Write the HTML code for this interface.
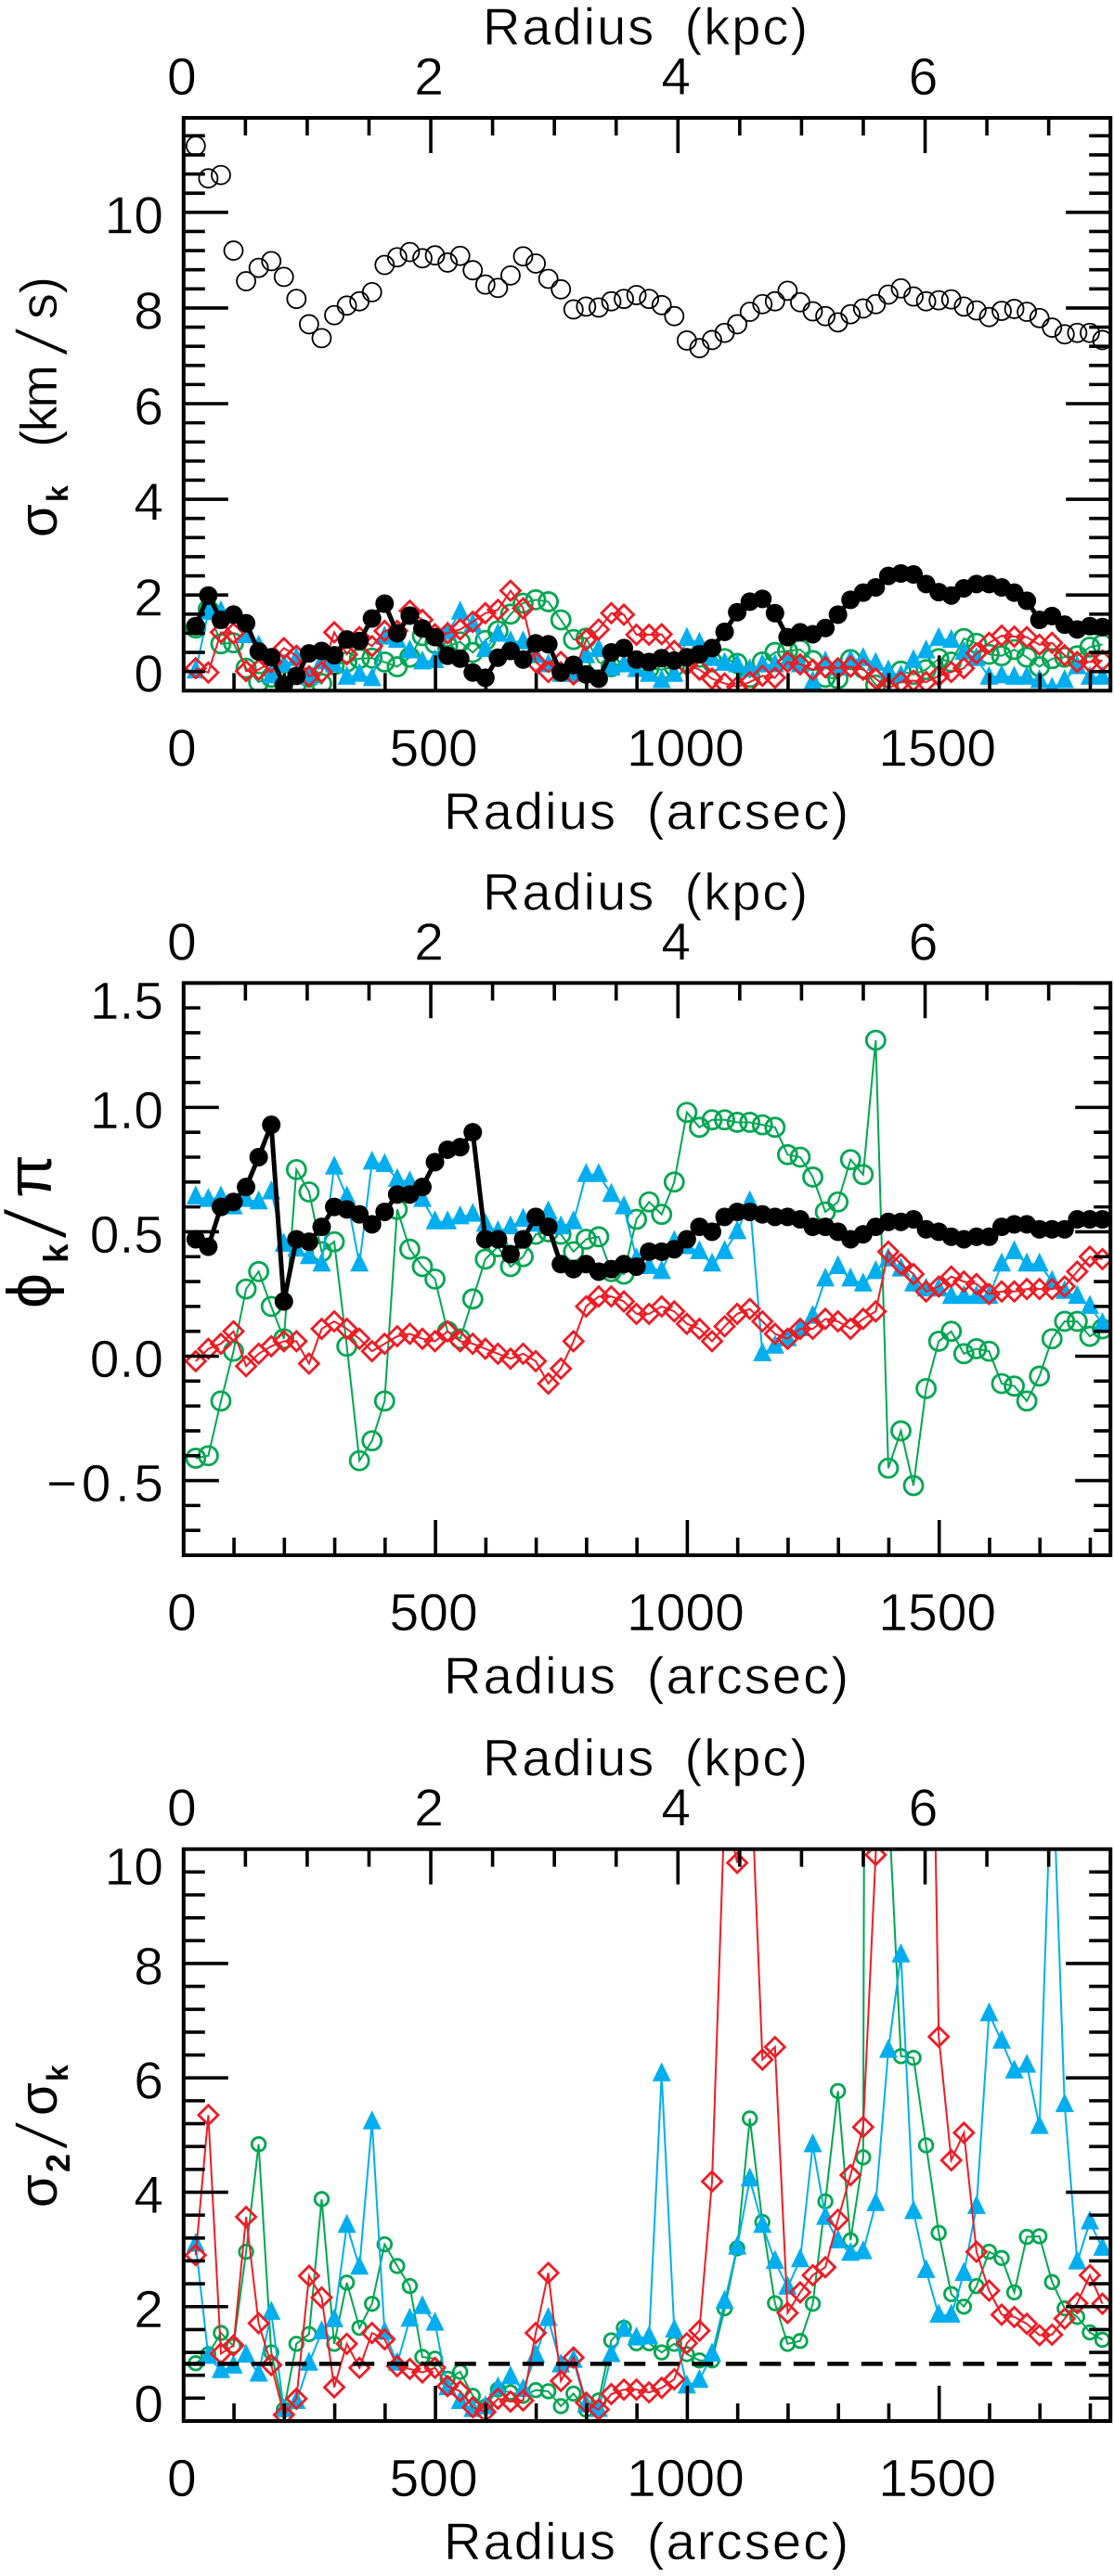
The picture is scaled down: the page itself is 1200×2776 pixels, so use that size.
<!DOCTYPE html>
<html lang="en">
<head>
<meta charset="utf-8">
<title>Radial profiles of sigma, phi and sigma ratio</title>
<style>
html,body{margin:0;padding:0;background:#fff;}
svg{display:block;}
text{font-family:"Liberation Sans","DejaVu Sans",sans-serif;fill:#000;stroke:#fff;stroke-width:0.6px;}
</style>
</head>
<body>
<svg id="chart" xmlns="http://www.w3.org/2000/svg" width="1200" height="2776" viewBox="0 0 1200 2776"></svg>
<script>
const radiusArcsec = [24,49,74,99,124,149,174,199,224,249,274,299,324,349,374,399,424,449,474,499,524,549,574,599,624,649,674,699,724,749,774,799,824,849,874,899,924,949,974,999,1024,1049,1074,1099,1124,1149,1174,1199,1224,1249,1274,1299,1324,1349,1374,1399,1424,1449,1474,1499,1524,1549,1574,1599,1624,1649,1674,1699,1724,1749,1774,1799,1824];
const arcsecTicks = [100,200,300,400,500,600,700,800,900,1000,1100,1200,1300,1400,1500,1600,1700,1800];
const arcsecLabels = [0,500,1000,1500];
const kpcTicks = [0.5,1,1.5,2,2.5,3,3.5,4,4.5,5,5.5,6,6.5,7];
const kpcLabels = [0,2,4,6];

const sigmaTotal = [11.39,10.71,10.78,9.2,8.56,8.84,8.98,8.65,8.19,7.66,7.37,7.85,8.05,8.14,8.33,8.9,9.06,9.17,9.04,9.1,8.95,9.09,8.79,8.49,8.42,8.68,9.08,8.93,8.61,8.39,7.97,8.03,8.01,8.14,8.19,8.27,8.19,8.06,7.83,7.32,7.16,7.33,7.48,7.66,7.92,8.08,8.14,8.36,8.12,7.93,7.83,7.7,7.87,7.99,8.08,8.28,8.41,8.24,8.14,8.16,8.18,8.03,7.95,7.81,7.94,7.98,7.92,7.79,7.59,7.45,7.48,7.48,7.33];
const sigmaBlack = [1.35,1.99,1.48,1.59,1.41,.82,.7,.12,.31,.78,.83,.74,1.07,1.04,1.51,1.82,1.2,1.57,1.3,1.12,.73,.67,.38,.27,.69,.83,.65,.99,.97,.38,.54,.34,.25,.8,.89,.65,.6,.68,.63,.7,.76,.89,1.23,1.64,1.86,1.92,1.62,1.12,1.22,1.18,1.31,1.59,1.9,2.05,2.16,2.4,2.45,2.43,2.23,2.06,1.99,2.14,2.23,2.23,2.16,2.05,1.88,1.48,1.56,1.38,1.28,1.35,1.33];
const sigmaBlue = [.41,1.64,1.65,1.57,1.15,.93,.31,.54,.67,.28,.6,.54,.28,.34,.25,1.12,1.05,.83,.6,.63,1.22,1.64,1.38,.86,1.18,1.02,1.02,.73,.54,.34,.34,.73,.86,.47,.54,.44,.34,.21,.34,1.09,.99,.67,.57,.54,.44,.54,.54,.6,.54,.18,.6,.47,.63,.67,.57,.41,.31,.63,.83,1.09,1.05,.8,.67,.28,.31,.28,.28,.21,.05,.21,.5,.28,.28];
const sigmaGreen = [1.31,1.7,.98,1.0,.47,.18,.28,.21,.15,.28,.15,.54,.6,.67,.68,.6,.5,.7,1.15,.99,.93,1.02,.8,1.05,1.25,1.6,1.83,1.9,1.86,1.48,1.07,1.1,.6,.5,.6,.54,.47,.44,.5,.6,.7,.6,.67,.57,.28,.6,.8,.83,.86,.63,.28,.25,.65,.47,.12,.08,.41,.34,.44,.67,.6,1.09,.99,.76,.73,.86,.7,.5,.67,.7,.73,.91,.97];
const sigmaRed = [.47,.38,1.22,1.2,.41,.44,.6,.89,.73,.3,.39,1.22,.76,1.12,.93,1.25,1.25,1.67,1.48,1.18,1.2,1.28,1.44,1.62,1.69,2.09,1.72,.6,.39,.6,.34,1.06,1.28,1.62,1.59,1.17,1.17,1.18,.83,.54,.44,.25,.15,.08,.18,.31,.27,.6,.55,.44,.49,.47,.5,.44,.25,.05,.18,.21,.18,.31,.39,.47,.78,1.0,1.15,1.13,1.12,.96,1.0,.74,.6,.6,.63];

const phiBlack = [.47,.44,.6,.62,.68,.8,.93,.22,.47,.46,.52,.6,.59,.57,.53,.58,.65,.65,.68,.78,.83,.84,.9,.47,.47,.41,.47,.56,.52,.37,.35,.37,.34,.35,.37,.36,.42,.42,.43,.47,.52,.5,.56,.58,.58,.57,.56,.56,.55,.52,.52,.5,.47,.49,.52,.54,.54,.55,.51,.5,.48,.47,.48,.48,.52,.53,.53,.51,.51,.51,.55,.55,.55];
const phiBlue = [.64,.63,.64,.6,.63,.62,.66,.45,.43,.4,.37,.76,.64,.37,.78,.77,.71,.7,.63,.54,.54,.56,.57,.53,.5,.52,.55,.53,.58,.52,.54,.73,.73,.65,.6,.39,.36,.34,.46,.44,.42,.37,.42,.5,.62,.01,.04,.07,.11,.16,.31,.36,.31,.29,.34,.39,.35,.29,.27,.27,.24,.24,.24,.24,.37,.42,.37,.37,.3,.26,.24,.2,.13];
const phiGreen = [-.41,-.4,-.18,.02,.27,.34,.2,.07,.75,.66,.42,.46,.04,-.42,-.34,-.18,.59,.43,.36,.31,.1,.07,.23,.39,.44,.36,.4,.49,.5,.49,.42,.47,.48,.34,.33,.55,.62,.57,.7,.98,.92,.95,.95,.94,.94,.93,.92,.81,.8,.72,.58,.62,.79,.73,1.27,-.45,-.3,-.52,-.13,.06,.1,.01,.03,.02,-.11,-.12,-.18,-.08,.07,.14,.14,.08,.11];
const phiRed = [-.02,.03,.05,.1,-.04,.01,.04,.06,.06,-.03,.11,.14,.11,.07,.02,.05,.08,.09,.07,.06,.1,.06,.05,.03,.01,-.01,.01,-.02,-.11,-.05,.06,.2,.24,.24,.22,.17,.17,.2,.18,.13,.11,.06,.12,.17,.19,.14,.09,.07,.11,.11,.15,.14,.11,.15,.18,.42,.37,.33,.26,.28,.32,.3,.29,.25,.26,.26,.27,.27,.27,.28,.34,.4,.39];

const ratioGreen = [1.01,1.17,1.54,1.31,2.96,4.84,1.2,.2,1.35,1.52,3.88,1.35,2.42,1.63,2.05,3.09,2.71,2.36,1.12,1.09,.74,.86,.44,.25,.55,.5,.44,.54,.52,.26,.48,.2,.36,1.41,1.63,1.36,1.36,1.2,1.35,1.17,1.06,1.06,1.97,3.02,5.29,3.48,2.06,1.35,1.4,2.05,3.84,5.77,3.16,4.61,82,10.9,6.38,6.35,4.82,3.29,2.22,2,2.36,2.96,2.85,2.25,3.22,3.23,2.43,1.97,1.82,1.55,1.42];
const ratioBlue = [3.09,1.13,.88,.96,1.15,.82,1.9,.2,.34,1.01,1.56,1.77,3.42,2.69,5.23,1.55,1.01,1.78,2,1.71,.58,.34,.2,.25,.58,.77,.55,1.15,1.79,.98,1.06,.28,.2,1.16,1.6,1.45,1.47,6.07,1.59,.61,.71,1.17,2.09,3.04,4.23,3.42,2.79,2.34,2.82,4.83,3.56,3.15,2.93,2.96,3.8,6.48,8.15,3.66,2.63,1.85,1.85,2.58,3.75,7.12,6.64,6.12,6.22,5.15,11.8,5.53,2.78,3.48,3.02];
const ratioRed = [2.9,5.35,1.18,1.32,3.57,1.71,.98,.11,.39,2.54,2.16,.59,1.35,.93,1.54,1.43,.96,.91,.85,.93,.61,.52,.24,.16,.39,.34,.36,1.54,2.59,.7,1.11,.32,.2,.47,.55,.55,.5,.58,.73,1.36,1.58,4.19,10.75,9.76,11.84,6.32,6.54,1.89,2.25,2.55,2.69,3.52,4.3,5.14,9.9,16,18,18,20,6.72,4.56,5.04,2.96,2.28,1.86,1.82,1.7,1.5,1.51,1.79,2.06,2.55,2.05];
const referenceLevel = [1];

const sigmaMinorTicks = [0.4,0.8,1.2,1.6,2,2.4,2.8,3.2,3.6,4,4.4,4.8,5.2,5.6,6,6.4,6.8,7.2,7.6,8,8.4,8.8,9.2,9.6,10,10.4,10.8,11.2,11.6];
const sigmaMajorTicks = [0,2,4,6,8,10];
const sigmaLabels = ["0","2","4","6","8","10"];
const phiMinorTicks = [-0.7,-0.6,-0.5,-0.4,-0.3,-0.2,-0.1,0,0.1,0.2,0.3,0.4,0.5,0.6,0.7,0.8,0.9,1,1.1,1.2,1.3,1.4];
const phiMajorTicks = [-0.5,0,0.5,1,1.5];
const phiLabels = ["\u22120.5","0.0","0.5","1.0","1.5"];
const ratioMinorTicks = [0.4,0.8,1.2,1.6,2,2.4,2.8,3.2,3.6,4,4.4,4.8,5.2,5.6,6,6.4,6.8,7.2,7.6,8,8.4,8.8,9.2,9.6];
const ratioMajorTicks = [0,2,4,6,8,10];
const ratioLabels = ["0","2","4","6","8","10"];

const NS = "http://www.w3.org/2000/svg";
const svg = document.getElementById("chart");
const BLUE = "#00AEEF", GREEN = "#00A651", RED = "#ED1C24", BLACK = "#000";
const frameLeft = 197.8, frameRight = 1196.2;
const arcsecMax = 1840, kpcMax = 7.5;

function xArc(v){ return frameLeft + v / arcsecMax * (frameRight - frameLeft); }
function xKpc(v){ return frameLeft + v / kpcMax * (frameRight - frameLeft); }
function yScale(p, v){ return p.bottom - (v - p.yMin) / (p.yMax - p.yMin) * (p.bottom - p.top); }

function make(tag, parent, attrs){
  const el = document.createElementNS(NS, tag);
  for (const k in attrs) el.setAttribute(k, attrs[k]);
  parent.appendChild(el);
  return el;
}
function seg(parent, name, x1, y1, x2, y2, w){
  const el = make("line", parent, {x1:x1, y1:y1, x2:x2, y2:y2, stroke:"#000", "stroke-width":w});
  
  
  return el;
}
function label(parent, name, str, x, y, size, anchor, len){
  const el = make("text", parent, {x:x, y:y, "font-size":size, "text-anchor":anchor});
  el.textContent = str;
  if (len) { el.setAttribute("textLength", len); el.setAttribute("lengthAdjust", "spacing"); }
  
  
  return el;
}
function rotLabel(parent, name, str, baseX, startY, size, len, stretch, whiteStroke, bold){
  const el = make("text", parent, {x:0, y:0, "font-size":size,
    transform:"translate(" + baseX + " " + startY + ") rotate(-90) scale(" + (stretch || 1) + " 1)"});
  el.textContent = str;
  if (len) { el.setAttribute("textLength", len); el.setAttribute("lengthAdjust", "spacing"); }
  el.style.strokeWidth = (whiteStroke || 0) + "px";
  if (bold) el.style.fontWeight = "bold";
  
  
  return el;
}

function drawSeries(p, g, values, style, name){
  const group = make("g", g, {"clip-path":"url(#" + p.clip + ")"});
  
  
  const pts = values.map(function(v, i){ return xArc(radiusArcsec[i]).toFixed(1) + "," + yScale(p, v).toFixed(1); });
  if (style.lineWidth) {
    const line = make("polyline", group, {points:pts.join(" "), fill:"none", stroke:style.color, "stroke-width":style.lineWidth, "stroke-linejoin":"miter"});
    
    
  }
  values.forEach(function(v, i){
    const cx = xArc(radiusArcsec[i]), cy = yScale(p, v);
    let el;
    if (style.marker === "open") {
      el = make("circle", group, {cx:cx, cy:cy, r:style.size, fill:"none", stroke:style.color, "stroke-width":style.sw});
    } else if (style.marker === "filled") {
      el = make("circle", group, {cx:cx, cy:cy, r:style.size, fill:style.color});
    } else if (style.marker === "triangle") {
      const s = style.size;
      el = make("polygon", group, {points:[cx, cy - s * 1.25, cx + s, cy + s * 0.8, cx - s, cy + s * 0.8].join(" "), fill:style.color});
    } else {
      const s = style.size;
      el = make("polygon", group, {points:[cx, cy - s, cx + s, cy, cx, cy + s, cx - s, cy].join(" "), fill:"none", stroke:style.color, "stroke-width":style.sw});
    }
    
    
  });
}

function drawAxes(p, g){
  const tw = 3.6;
  arcsecTicks.forEach(function(t){
    const major = arcsecLabels.indexOf(t) >= 0;
    const len = major ? 38 : 19;
    seg(g, "bottom-axis-tick", xArc(t), p.bottom, xArc(t), p.bottom - len, tw);
  });
  kpcTicks.forEach(function(t){
    const major = kpcLabels.indexOf(t) >= 0;
    const len = major ? 38 : 19;
    seg(g, "top-axis-tick", xKpc(t), p.top, xKpc(t), p.top + len, tw);
  });
  p.minor.forEach(function(t){
    const major = p.major.indexOf(t) >= 0;
    const len = major ? p.majorLen : p.minorLen;
    seg(g, "left-axis-tick", frameLeft, yScale(p, t), frameLeft + len, yScale(p, t), tw);
    seg(g, "right-axis-tick", frameRight, yScale(p, t), frameRight - len, yScale(p, t), tw);
  });
  const frame = make("rect", g, {x:frameLeft, y:p.top, width:frameRight - frameLeft, height:p.bottom - p.top, fill:"none", stroke:"#000", "stroke-width":4});
  
  

  arcsecLabels.forEach(function(t){
    label(g, "bottom-axis-label", String(t), xArc(t) - 2, p.bottom + 81, 57, "middle");
  });
  kpcLabels.forEach(function(t){
    label(g, "top-axis-label", String(t), xKpc(t) - 2, p.top - 25, 57, "middle");
  });
  p.major.forEach(function(t, i){
    const str = p.labels[i];
    let by = yScale(p, t) + 22.5;
    by = Math.min(by, p.bottom + 1);
    by = Math.max(by, p.top + 38.5);
    label(g, "left-axis-label", str, 176, by, 57, "end", str.charAt(0) === "\u2212" ? 126 : 0);
  });
  label(g, "top-axis-title", "Radius (kpc)", 520, p.top - 79, 56, "start", 350).style.wordSpacing = "14px";
  label(g, "bottom-axis-title", "Radius (arcsec)", 478, p.bottom + 149, 56, "start", 436).style.wordSpacing = "14px";
}

function panel(cfg, seriesList){
  const g = make("g", svg, {});
  
  
  const clipEl = make("clipPath", g, {id:cfg.clip});
  make("rect", clipEl, {x:frameLeft, y:cfg.top, width:frameRight - frameLeft, height:cfg.bottom - cfg.top});
  seriesList.forEach(function(s){ drawSeries(cfg, g, s.values, s.style, s.name); });
  if (cfg.dashed) {
    const d = make("line", g, {x1:frameLeft, x2:frameRight, y1:yScale(cfg, referenceLevel[0]), y2:yScale(cfg, referenceLevel[0]), stroke:"#000", "stroke-width":4.6, "stroke-dasharray":"23 13.5"});
    
    
  }
  drawAxes(cfg, g);
  return g;
}

const p1 = {name:"sigma-panel", clip:"clip-p1", top:127, bottom:744.3, yMin:0, yMax:11.975, minor:sigmaMinorTicks, major:sigmaMajorTicks, labels:sigmaLabels, majorLen:48, minorLen:23};
const p2 = {name:"phi-panel", clip:"clip-p2", top:1059.3, bottom:1676, yMin:-0.8, yMax:1.5, minor:phiMinorTicks.concat([1.5]), major:phiMajorTicks, labels:phiLabels, majorLen:38, minorLen:18};
const p3 = {name:"ratio-panel", clip:"clip-p3", top:1992.7, bottom:2609, yMin:0, yMax:10, minor:ratioMinorTicks, major:ratioMajorTicks, labels:ratioLabels, majorLen:48, minorLen:23, dashed:true};

const g1 = panel(p1, [
  {name:"sigma-total", values:sigmaTotal, style:{marker:"open", color:BLACK, size:10, sw:1.8}},
  {name:"sigma-green", values:sigmaGreen, style:{marker:"open", color:GREEN, size:10, sw:2.8, lineWidth:2}},
  {name:"sigma-blue", values:sigmaBlue, style:{marker:"triangle", color:BLUE, size:10, lineWidth:2}},
  {name:"sigma-red", values:sigmaRed, style:{marker:"diamond", color:RED, size:10.5, sw:2.8, lineWidth:2}},
  {name:"sigma-black", values:sigmaBlack, style:{marker:"filled", color:BLACK, size:10, lineWidth:5}}
]);
const g2 = panel(p2, [
  {name:"phi-green", values:phiGreen, style:{marker:"open", color:GREEN, size:10, sw:2.8, lineWidth:2}},
  {name:"phi-blue", values:phiBlue, style:{marker:"triangle", color:BLUE, size:10, lineWidth:2}},
  {name:"phi-red", values:phiRed, style:{marker:"diamond", color:RED, size:10.5, sw:2.8, lineWidth:2}},
  {name:"phi-black", values:phiBlack, style:{marker:"filled", color:BLACK, size:10, lineWidth:5}}
]);
const g3 = panel(p3, [
  {name:"ratio-green", values:ratioGreen, style:{marker:"open", color:GREEN, size:7.3, sw:2.8, lineWidth:2}},
  {name:"ratio-blue", values:ratioBlue, style:{marker:"triangle", color:BLUE, size:10, lineWidth:2}},
  {name:"ratio-red", values:ratioRed, style:{marker:"diamond", color:RED, size:10.5, sw:2.8, lineWidth:2}}
]);

rotLabel(g1, "y-axis-title-sigma", "\u03C3", 61, 579, 58);
rotLabel(g1, "y-axis-title-subscript", "k", 73, 541, 32, 0, 1, 0, true);
rotLabel(g1, "y-axis-title-units-km", "(km", 61, 482, 56, 89, 1, 0.6);
rotLabel(g1, "y-axis-title-slash", "/", 73, 386, 80, 0, 1.6, 3.6);
rotLabel(g1, "y-axis-title-units-s", "s)", 61, 344, 56, 46, 1, 0.6);

rotLabel(g2, "y-axis-title-phi", "\u03D5", 55, 1410, 68);
rotLabel(g2, "y-axis-title-subscript", "k", 73, 1361, 37, 0, 1, 0, true);
rotLabel(g2, "y-axis-title-slash", "/", 72, 1338, 96, 0, 1.46, 4);
rotLabel(g2, "y-axis-title-pi", "\u03C0", 55, 1291, 68);

rotLabel(g3, "y-axis-title-sigma-numerator", "\u03C3", 61, 2379, 58);
rotLabel(g3, "y-axis-title-subscript-two", "2", 75, 2341, 36, 0, 1, 0, true);
rotLabel(g3, "y-axis-title-slash", "/", 73, 2319, 80, 0, 1.6, 3.6);
rotLabel(g3, "y-axis-title-sigma-denominator", "\u03C3", 61, 2280, 58);
rotLabel(g3, "y-axis-title-subscript-k", "k", 73, 2243, 32, 0, 1, 0, true);
</script>
</body>
</html>
